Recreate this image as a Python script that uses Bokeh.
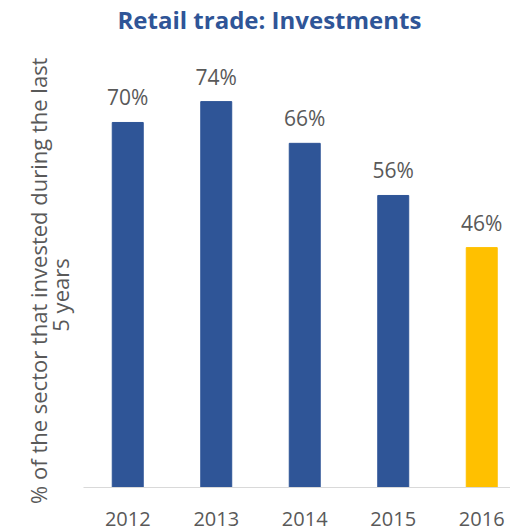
from bokeh.plotting import figure
from bokeh.models import ColumnDataSource, LabelSet, Range1d, FixedTicker, Title
from bokeh.core.properties import value
from bokeh.embed import file_html
from bokeh.resources import INLINE

years = ["2012", "2013", "2014", "2015", "2016"]
values = [70, 74, 66, 56, 46]
labels = ["70%", "74%", "66%", "56%", "46%"]
colors = ["#2F5597", "#2F5597", "#2F5597", "#2F5597", "#FFC000"]
y_title_lines = ["% of the sector that invested during the last", "5 years"]

idx = list(range(len(years)))
src = ColumnDataSource(dict(x=idx, top=values, text=labels, color=colors))

p = figure(width=510, height=528, output_backend="svg", toolbar_location=None,
           title_location=None,
           x_range=Range1d(-0.5, 4.325), y_range=Range1d(0, 81.5),
           min_border_left=83, min_border_right=0, min_border_top=62, min_border_bottom=40)

p.vbar(x="x", top="top", bottom=0, width=0.35, color="color", source=src)

p.add_layout(LabelSet(x="x", y="top", text="text", source=src, y_offset=25,
                      text_align="center", text_baseline="middle", level="overlay",
                      text_font=value("Open Sans"), text_font_size="21px", text_color="#595959"))

# spacer between frame and title, then the title itself
p.add_layout(Title(text=" ", text_font_size="2px", standoff=23), "above")
p.add_layout(Title(text="Retail trade: Investments", align="left", offset=34,
                   text_font="Open Sans", text_font_style="bold", text_font_size="24px",
                   text_color="#2F5597", standoff=0), "above")

p.xaxis.ticker = FixedTicker(ticks=idx)
p.xaxis.major_label_overrides = {i: y for i, y in zip(idx, years)}
p.xaxis.major_tick_line_color = None
p.xaxis.minor_tick_line_color = None
p.xaxis.axis_line_color = "#D9D9D9"
p.xaxis.major_label_text_font = "Open Sans"
p.xaxis.major_label_text_font_size = "20px"
p.xaxis.major_label_text_color = "#595959"
p.xaxis.major_label_standoff = 18

nb = "\u00a0"
p.yaxis.ticker = FixedTicker(ticks=[])
p.yaxis.axis_label = y_title_lines[0] + nb * 2 + "\n" + y_title_lines[1] + nb * 7
p.yaxis.axis_label_text_font = "Open Sans"
p.yaxis.axis_label_text_font_size = "22px"
p.yaxis.axis_label_text_font_style = "normal"
p.yaxis.axis_label_text_color = "#595959"
p.yaxis.axis_label_text_line_height = 0.72
p.yaxis.axis_label_standoff = 9
p.yaxis.major_tick_line_color = None
p.yaxis.minor_tick_line_color = None
p.yaxis.major_tick_out = 0
p.yaxis.axis_line_color = None

p.grid.grid_line_color = None
p.outline_line_color = None

open("out.html", "w").write(file_html(p, INLINE))
